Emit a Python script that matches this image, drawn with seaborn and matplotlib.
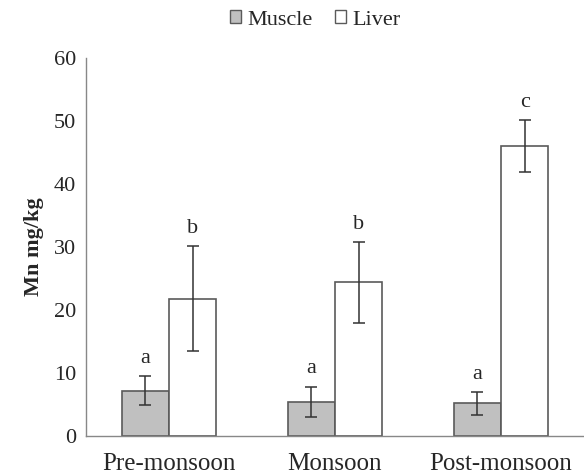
import pandas as pd
import matplotlib.pyplot as plt
import seaborn as sns

seasons = ['Pre-monsoon', 'Monsoon', 'Post-monsoon']
tissues = ['Muscle', 'Liver']
muscle = [7.2, 5.4, 5.2]
liver = [21.8, 24.4, 46.0]
muscle_err = [2.35, 2.45, 1.8]
liver_err = [8.3, 6.4, 4.1]
muscle_letters = ['a', 'a', 'a']
liver_letters = ['b', 'b', 'c']

data = pd.DataFrame({
    'season': seasons * 2,
    'tissue': ['Muscle'] * 3 + ['Liver'] * 3,
    'mn': muscle + liver,
})

sns.set_style('white')
plt.rcParams['font.family'] = ['Liberation Serif', 'DejaVu Serif']

fig = plt.figure(figsize=(5.84, 4.75), dpi=100)
ax = fig.add_axes([0.147, 0.082, 0.853, 0.796])

sns.barplot(x='season', y='mn', hue='tissue', data=data, order=seasons,
            hue_order=tissues, palette={'Muscle': '#c0c0c0', 'Liver': 'white'},
            width=0.57, edgecolor='#5a5a5a', linewidth=1.2, ax=ax, legend=False)

errs = {'Muscle': muscle_err, 'Liver': liver_err}
letters = {'Muscle': muscle_letters, 'Liver': liver_letters}
vals = {'Muscle': muscle, 'Liver': liver}
for cont, t in zip(ax.containers, tissues):
    xs = [b.get_x() + b.get_width() / 2 for b in cont]
    ax.errorbar(xs, vals[t], yerr=errs[t], fmt='none', ecolor='#333333',
                elinewidth=1.1, capsize=4, capthick=1.1)
    for x, v, e, lab in zip(xs, vals[t], errs[t], letters[t]):
        ax.text(x, v + e + 1.3, lab, ha='center', va='bottom', fontsize=16)

ax.set_ylim(0, 60)
ax.set_yticks(range(0, 61, 10))
ax.set_xlim(-0.5, 2.45)
ax.set_xticks([-0.5, 0.5, 1.5, 2.5], minor=False)
ax.set_xticklabels([])
ax.set_xticks([0, 1, 2], minor=True)
ax.set_xticklabels(seasons, minor=True, fontsize=18)
ax.tick_params(axis='x', which='minor', length=0, pad=12)
ax.tick_params(axis='x', which='major', length=5, color='#888888', direction='out')
ax.tick_params(axis='y', length=4, pad=3, color='#888888', direction='out', labelsize=16)
ax.set_xlabel('')
ax.set_ylabel('Mn mg/kg', fontsize=16, fontweight='bold', labelpad=7)
sns.despine(ax=ax)
for s in ['left', 'bottom']:
    ax.spines[s].set_color('#888888')
    ax.spines[s].set_linewidth(1.0)

handles = [plt.Rectangle((0, 0), 1, 1, facecolor='#c0c0c0', edgecolor='#5a5a5a'),
           plt.Rectangle((0, 0), 1, 1, facecolor='white', edgecolor='#5a5a5a')]
fig.legend(handles, tissues, loc='upper center', bbox_to_anchor=(0.54, 1.02),
           ncol=2, frameon=False, fontsize=16, handlelength=0.5, handleheight=0.5,
           handletextpad=0.3, columnspacing=1.0)

fig.savefig('out.png', dpi=100)
